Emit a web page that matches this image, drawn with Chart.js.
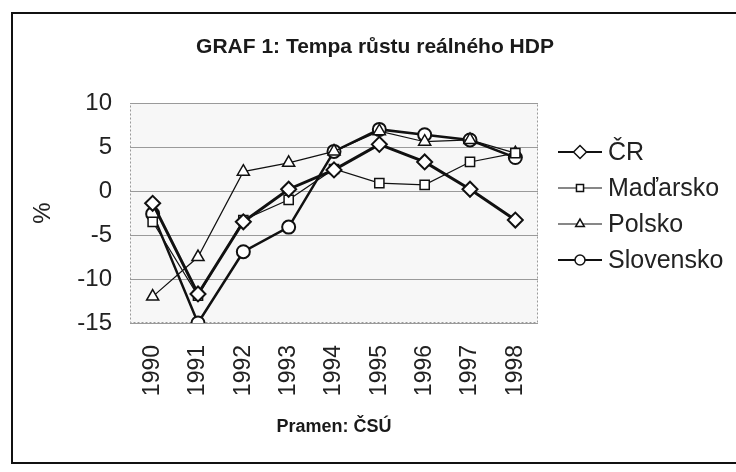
<!DOCTYPE html>
<html>
<head>
<meta charset="utf-8">
<script src="https://cdn.jsdelivr.net/npm/chart.js@4/dist/chart.umd.min.js"></script>
<style>
  html, body { margin:0; padding:0; background:#fff; width:736px; height:472px; overflow:hidden; }
  #frame { position:absolute; left:11px; top:12px; width:760px; height:452px; border:2px solid #111; box-sizing:border-box; }
  #wrap { position:absolute; left:0; top:0; width:736px; height:472px; }
</style>
</head>
<body>
<div id="frame"></div>
<div id="wrap"><canvas id="c" width="736" height="472"></canvas></div>
<script>
const categories = ['1990','1991','1992','1993','1994','1995','1996','1997','1998'];
const seriesNames = ['ČR','Maďarsko','Polsko','Slovensko'];
const cr        = [-1.4, -11.7, -3.5, 0.2, 2.4, 5.3, 3.3, 0.2, -3.3];
const madarsko  = [-3.5, -11.9, -3.3, -1.0, 2.5, 0.9, 0.7, 3.3, 4.3];
const polsko    = [-12.0, -7.5, 2.2, 3.2, 4.5, 6.8, 5.6, 5.8, 4.3];
const slovensko = [-2.6, -15.0, -6.9, -4.1, 4.5, 7.0, 6.4, 5.8, 3.8];
const yTicks    = [-15, -10, -5, 0, 5, 10];
const chartTitle = 'GRAF 1: Tempa růstu reálného HDP';
const sourceNote = 'Pramen: ČSÚ';

const FONT = '"Liberation Sans", Arial, Helvetica, sans-serif';

const styles = [
  { pointStyle:'rectRot', radius:7.5, lineWidth:3, pointBorderWidth:2, legendLine:2.2, legendRadius:6.5 },
  { pointStyle:'rect', radius:6.5, lineWidth:1.2, pointBorderWidth:1.5, legendLine:1.2, legendRadius:5 },
  { pointStyle:'triangle', radius:7, lineWidth:1.2, pointBorderWidth:1.5, legendLine:1.2, legendRadius:5 },
  { pointStyle:'circle', radius:6.5, lineWidth:2.5, pointBorderWidth:2, legendLine:2.2, legendRadius:5 }
];
const values = [cr, madarsko, polsko, slovensko];

const datasets = values.map((v, i) => ({
  label: seriesNames[i],
  data: v,
  borderColor: '#111',
  backgroundColor: '#fff',
  borderWidth: styles[i].lineWidth,
  pointStyle: styles[i].pointStyle,
  pointRadius: styles[i].radius,
  pointHoverRadius: styles[i].radius,
  pointBackgroundColor: '#fff',
  pointBorderColor: '#111',
  pointBorderWidth: styles[i].pointBorderWidth,
  tension: 0
}));

const plotBg = {
  id: 'plotBg',
  beforeDraw(chart) {
    const {ctx, chartArea:a} = chart;
    ctx.save();
    ctx.fillStyle = '#f7f7f7';
    ctx.fillRect(a.left, a.top, a.right - a.left, a.bottom - a.top);
    ctx.setLineDash([2, 2]);
    ctx.strokeStyle = '#9a9a9a';
    ctx.lineWidth = 1;
    ctx.strokeRect(a.left + 0.5, a.top + 0.5, a.right - a.left - 1, a.bottom - a.top - 1);
    ctx.restore();
  }
};

const titleAndLegend = {
  id: 'titleAndLegend',
  afterDraw(chart) {
    const ctx = chart.ctx;
    ctx.save();
    ctx.fillStyle = '#1a1a1a';
    ctx.font = 'bold 21px ' + FONT;
    ctx.textAlign = 'center';
    ctx.textBaseline = 'middle';
    ctx.fillText(chartTitle, 375, 47);
    const x0 = 558, x1 = 602, xm = 580, tx = 608;
    const ys = [152, 188, 224, 260];
    seriesNames.forEach((name, i) => {
      const y = ys[i];
      ctx.strokeStyle = '#111';
      ctx.lineWidth = styles[i].legendLine;
      ctx.beginPath(); ctx.moveTo(x0, y); ctx.lineTo(x1, y); ctx.stroke();
      ctx.fillStyle = '#fff';
      ctx.lineWidth = 1.5;
      Chart.helpers.drawPoint(ctx, { pointStyle: styles[i].pointStyle, radius: styles[i].legendRadius, rotation: 0, borderWidth: 1.5 }, xm, y);
      ctx.fillStyle = '#222';
      ctx.font = '25px ' + FONT;
      ctx.textBaseline = 'middle';
      ctx.textAlign = 'left';
      ctx.fillText(name, tx, y + 1);
    });
    ctx.restore();
  }
};

new Chart(document.getElementById('c'), {
  type: 'line',
  data: { labels: categories, datasets },
  options: {
    responsive: false,
    animation: false,
    layout: { padding: { left: 0, right: 198, top: 103, bottom: 0 } },
    plugins: {
      legend: { display: false },
      tooltip: { enabled: false },
      title: { display: false }
    },
    scales: {
      x: {
        offset: true,
        grid: { display: false, drawTicks: false },
        border: { display: false },
        ticks: {
          color: '#222',
          autoSkip: false,
          minRotation: 90, maxRotation: 90,
          padding: 22,
          font: { family: FONT, size: 23 }
        },
        title: {
          display: true,
          text: sourceNote,
          color: '#1a1a1a',
          font: { family: FONT, size: 18, weight: 'bold' },
          padding: { top: 0, bottom: 34 }
        },
        afterFit(scale) { scale.height = 149; }
      },
      y: {
        min: -15, max: 10,
        afterBuildTicks(scale) { scale.ticks = yTicks.map(v => ({ value: v })); },
        grid: { color: '#9a9a9a', lineWidth: 1, drawTicks: false, drawOnChartArea: true },
        border: { display: false },
        ticks: {
          color: '#222',
          padding: 18,
          font: { family: FONT, size: 24 }
        },
        title: {
          display: true,
          text: '%',
          color: '#222',
          font: { family: FONT, size: 24 },
          padding: { top: 29, bottom: 0 }
        },
        afterFit(scale) { scale.width = 130; }
      }
    }
  },
  plugins: [plotBg, titleAndLegend]
});
</script>
</body>
</html>
